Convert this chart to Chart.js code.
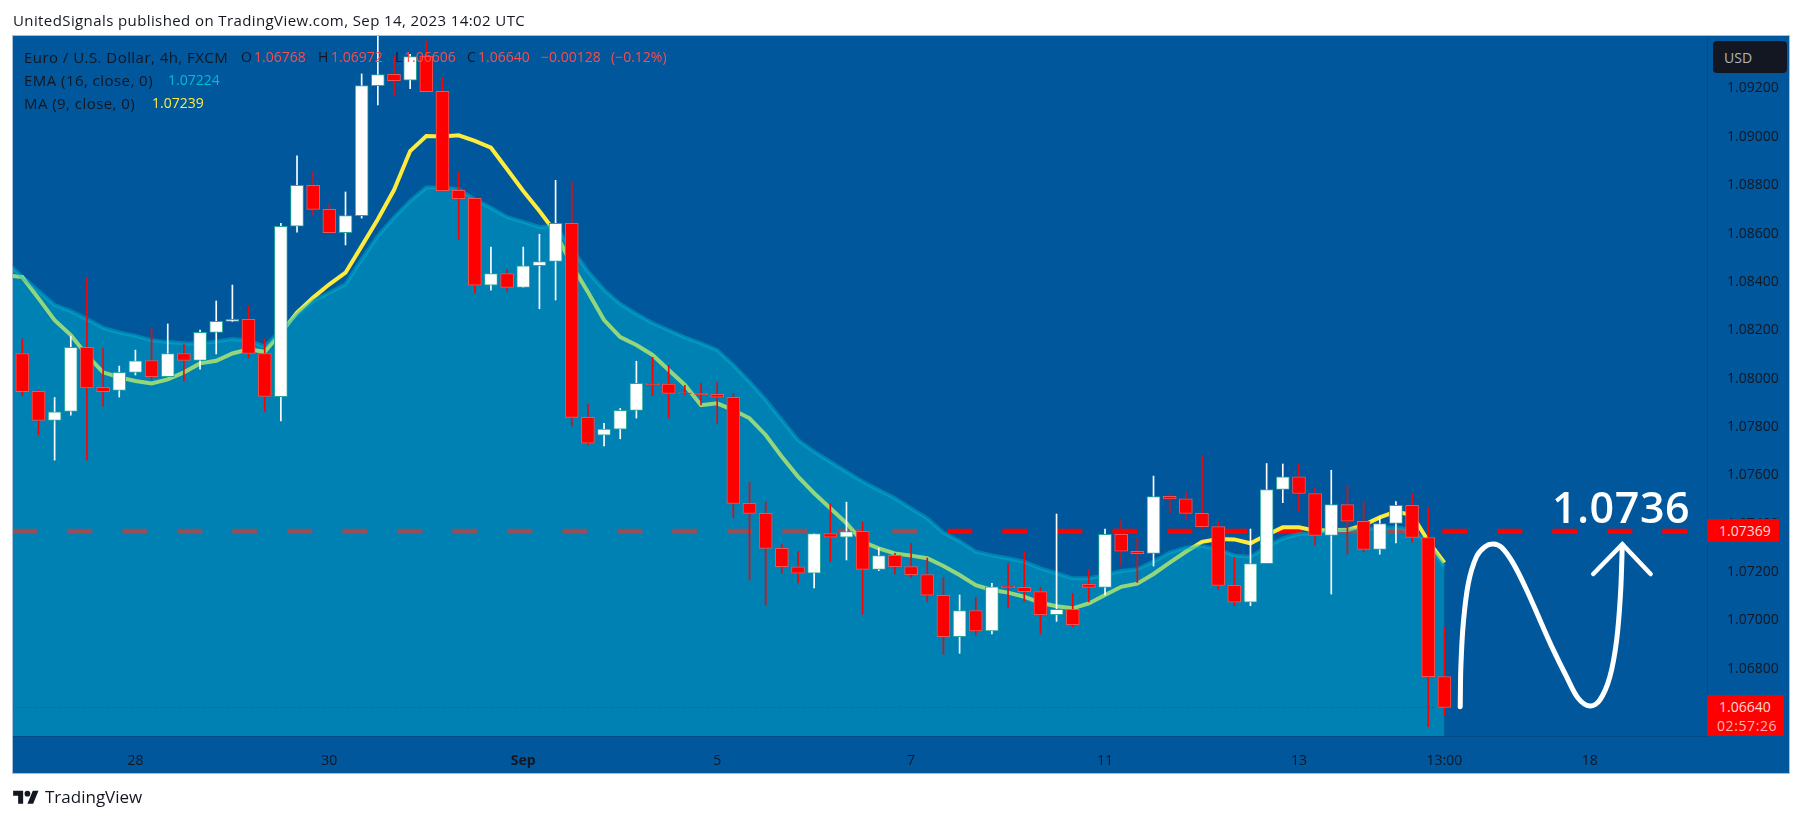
<!DOCTYPE html>
<html><head><meta charset="utf-8">
<script src="https://cdn.jsdelivr.net/npm/chart.js@4"></script>
<style>
html,body{margin:0;padding:0;background:#fff;width:1803px;height:821px;overflow:hidden}
canvas{position:absolute;left:0;top:0}
.t{position:absolute;white-space:nowrap;font-family:"Open Sans",sans-serif;font-size:14px;line-height:18px;color:#131722}
.l{font-size:15px;letter-spacing:.45px}
.r{color:#ff4a4a}
.tag{position:absolute;background:#ff0000}
</style></head><body>
<canvas id="c" width="1803" height="821"></canvas>
<div class="t" id="title" style="left:13px;top:11px;font-size:15px;letter-spacing:.4px">UnitedSignals published on TradingView.com, Sep 14, 2023 14:02 UTC</div>

<div class="t l" style="left:24px;top:48px">Euro / U.S. Dollar, 4h, FXCM</div>
<div class="t" style="left:241px;top:48px">O</div><div class="t r" style="left:254px;top:48px">1.06768</div>
<div class="t" style="left:318px;top:48px">H</div><div class="t r" style="left:331px;top:48px">1.06972</div>
<div class="t" style="left:395px;top:48px">L</div><div class="t r" style="left:404px;top:48px">1.06606</div>
<div class="t" style="left:467px;top:48px">C</div><div class="t r" style="left:478px;top:48px">1.06640</div>
<div class="t r" style="left:541px;top:48px">−0.00128</div><div class="t r" style="left:611px;top:48px">(−0.12%)</div>
<div class="t l" style="left:24px;top:71px">EMA (16, close, 0)</div><div class="t" style="left:168px;top:71px;color:#00bcd4">1.07224</div>
<div class="t l" style="left:24px;top:94px">MA (9, close, 0)</div><div class="t" style="left:152px;top:94px;color:#ffeb3b">1.07239</div>

<div style="position:absolute;left:1713px;top:41px;width:74px;height:32px;background:#131722;border-radius:4px"></div>
<div class="t" style="left:1724px;top:49px;color:#b2b5be">USD</div>
<div class="tag" style="left:1707px;top:519px;width:72px;height:23px"></div>
<div class="t" style="left:1719px;top:522px;color:#ffd9d9">1.07369</div>
<div class="tag" style="left:1707px;top:695px;width:77px;height:41px"></div>
<div class="t" style="left:1719px;top:698px;color:#ffd9d9">1.06640</div>
<div class="t" style="left:1717px;top:717px;color:#ffb3b3;letter-spacing:.6px">02:57:26</div>

<div class="t" style="left:1552px;top:479px;font-size:43px;line-height:56px;font-weight:600;color:#fff;letter-spacing:.6px">1.0736</div>

<svg style="position:absolute;left:13px;top:788px" width="26" height="20" viewBox="0 0 36 28"><path fill="#131722" d="M14 22H7V11H0V4h14v18zM28 22h-8l7.5-18h8L28 22z"/><circle fill="#131722" cx="20" cy="8" r="4"/></svg>
<div class="t" style="left:45px;top:787px;font-size:17px;line-height:20px">TradingView</div>

<script>
const opens=[1.08104,1.07947,1.07827,1.07864,1.08129,1.07964,1.07951,1.08026,1.08075,1.08008,1.08104,1.08075,1.08191,1.08237,1.08245,1.08104,
1.07925,1.08630,1.08799,1.08700,1.08604,1.08674,1.09212,1.09258,1.09234,1.09334,1.09188,1.08779,1.08746,1.08386,1.08434,1.08377,1.08467,1.08485,1.08642,
1.07840,1.07766,1.07791,1.07869,1.07981,1.07977,1.07941,1.07939,1.07935,1.07923,1.07484,1.07443,1.07298,1.07222,1.07195,1.07359,1.07344,
1.07368,1.07211,1.07269,1.07223,1.07190,1.07104,1.06933,1.07041,1.06957,1.07142,1.07137,1.07119,1.07024,1.07046,1.07149,1.07137,1.07356,1.07286,
1.07277,1.07513,1.07503,1.07443,1.07388,1.07145,1.07075,1.07235,1.07542,1.07594,1.07525,1.07352,1.07479,1.07410,1.07294,1.07401,1.07476,1.07343,1.06768];
const highs=[1.08164,1.07953,1.07922,1.08176,1.08419,1.08125,1.08052,1.08118,1.08208,1.08226,1.08143,1.08201,1.08321,1.08387,1.08300,1.08164,
1.08642,1.08921,1.08854,1.08725,1.08772,1.09260,1.09430,1.09334,1.09341,1.09396,1.09245,1.08854,1.08746,1.08544,1.08452,1.08544,1.08597,1.08820,1.08815,
1.07895,1.07815,1.07877,1.08072,1.08088,1.08055,1.07972,1.07981,1.07985,1.07939,1.07571,1.07489,1.07315,1.07286,1.07359,1.07482,1.07489,
1.07407,1.07299,1.07277,1.07319,1.07258,1.07178,1.07105,1.07095,1.07153,1.07236,1.07283,1.07137,1.07440,1.07112,1.07211,1.07378,1.07419,1.07343,
1.07597,1.07525,1.07534,1.07683,1.07410,1.07261,1.07378,1.07649,1.07647,1.07649,1.07546,1.07621,1.07558,1.07492,1.07426,1.07492,1.07521,1.07468,1.06972];
const lows=[1.07929,1.07767,1.07663,1.07849,1.07663,1.07886,1.07924,1.08015,1.07998,1.08008,1.07990,1.08039,1.08102,1.08235,1.08086,1.07863,
1.07825,1.08606,1.08673,1.08604,1.08553,1.08664,1.09132,1.09169,1.09199,1.09187,1.08775,1.08576,1.08355,1.08366,1.08362,1.08377,1.08289,1.08325,1.07804,
1.07726,1.07722,1.07751,1.07837,1.07930,1.07837,1.07933,1.07891,1.07815,1.07424,1.07167,1.07064,1.07195,1.07155,1.07134,1.07243,1.07250,
1.07026,1.07206,1.07192,1.07178,1.07077,1.06861,1.06864,1.06939,1.06944,1.07053,1.07079,1.06944,1.06996,1.06974,1.07076,1.07105,1.07225,1.07157,
1.07225,1.07443,1.07419,1.07378,1.07128,1.07061,1.07061,1.07235,1.07487,1.07450,1.07312,1.07109,1.07274,1.07283,1.07274,1.07321,1.07324,1.06561,1.06606];
const closes=[1.07946,1.07827,1.07863,1.08129,1.07962,1.07946,1.08026,1.08074,1.08008,1.08104,1.08075,1.08191,1.08237,1.08245,1.08104,1.07926,
1.08630,1.08799,1.08700,1.08604,1.08674,1.09212,1.09257,1.09232,1.09332,1.09187,1.08777,1.08744,1.08386,1.08434,1.08377,1.08467,1.08484,1.08642,1.07840,
1.07733,1.07791,1.07869,1.07981,1.07975,1.07939,1.07938,1.07934,1.07923,1.07484,1.07443,1.07298,1.07222,1.07195,1.07359,1.07344,1.07367,
1.07211,1.07268,1.07222,1.07189,1.07104,1.06933,1.07041,1.06957,1.07139,1.07135,1.07119,1.07024,1.07046,1.06982,1.07137,1.07356,1.07286,1.07276,
1.07512,1.07503,1.07443,1.07388,1.07145,1.07075,1.07235,1.07541,1.07594,1.07525,1.07352,1.07479,1.07410,1.07294,1.07401,1.07476,1.07343,1.06767,1.06640];
const emaValues=[1.08483,1.08421,1.08362,1.08304,1.08279,1.08246,1.08210,1.08191,1.08177,1.08159,1.08151,1.08146,1.08144,1.08154,1.08164,1.08158,1.08132,
1.08201,1.08266,1.08321,1.08355,1.08390,1.08493,1.08590,1.08666,1.08735,1.08790,1.08790,1.08783,1.08741,1.08707,1.08668,1.08648,1.08627,1.08631,1.08538,
1.08443,1.08367,1.08309,1.08267,1.08230,1.08200,1.08171,1.08146,1.08118,1.08056,1.07987,1.07912,1.07829,1.07746,1.07698,1.07656,1.07615,
1.07574,1.07539,1.07505,1.07463,1.07422,1.07363,1.07328,1.07284,1.07269,1.07257,1.07243,1.07215,1.07195,1.07174,1.07174,1.07188,1.07204,1.07212,
1.07243,1.07281,1.07301,1.07308,1.07294,1.07268,1.07263,1.07305,1.07339,1.07357,1.07360,1.07374,1.07377,1.07377,1.07382,1.07385,1.07374,1.07319,1.07224];
const maValues=[1.08428,1.08420,1.08332,1.08242,1.08180,1.08097,1.08026,1.08005,1.07990,1.07980,1.07997,1.08026,1.08063,1.08074,1.08104,1.08121,1.08111,
1.08190,1.08273,1.08335,1.08390,1.08438,1.08548,1.08659,1.08780,1.08941,1.09003,1.09001,1.09006,1.08983,1.08955,1.08866,1.08776,1.08693,1.08604,1.08470,
1.08358,1.08242,1.08172,1.08139,1.08098,1.08036,1.07974,1.07890,1.07898,1.07870,1.07836,1.07767,1.07677,1.07595,1.07526,1.07464,1.07402,
1.07325,1.07298,1.07277,1.07268,1.07257,1.07225,1.07188,1.07146,1.07126,1.07115,1.07098,1.07073,1.07059,1.07050,1.07070,1.07105,1.07139,1.07152,
1.07192,1.07239,1.07284,1.07325,1.07337,1.07335,1.07319,1.07353,1.07385,1.07385,1.07371,1.07374,1.07374,1.07394,1.07426,1.07450,1.07436,1.07328,1.07239];
const priceTicks=[1.092,1.09,1.088,1.086,1.084,1.082,1.08,1.078,1.076,1.074,1.072,1.07,1.068,1.066];
const timeTickBars=[7,19,31,43,55,67,79,88,97];
const timeTickLabels=["28","30","Sep","5","7","11","13","13:00","18"];
const targetLevel=1.07369, lastPrice=1.0664;
const curveBars=[88.98,89.02,89.17,89.48,89.99,90.51,91.02,91.54,92.26,93.09,93.91,94.74,95.56,96.28,97.0,97.62,98.24,98.66,98.90,99.01];
const curvePrices=[1.06643,1.06809,1.06988,1.07153,1.07264,1.07305,1.07316,1.07302,1.07236,1.07126,1.07002,1.06878,1.06767,1.06678,1.06646,1.06671,1.06767,1.06919,1.07112,1.07312];
const arrowBars=[97.21,99.01,100.76];
const arrowPrices=[1.07192,1.07315,1.07192];
const lineStartBar=-0.62, levelEndBar=103.06, axisMinBar=-0.5755, axisMaxBar=104.25, yMin=1.06522, yMax=1.09417;

const BG="#01579b", AREA="rgba(0,188,212,0.42)";
const up=opens.map((o,i)=>closes[i]>=o);
const bars=opens.map((_,i)=>i);
const frame={id:"frame",beforeDraw(ch){const c=ch.ctx;c.save();c.fillStyle=BG;c.fillRect(13,36,1776,737);
 c.strokeStyle="#a8bfd6";c.lineWidth=1;c.strokeRect(12.5,35.5,1777,738);c.restore();}};
new Chart(document.getElementById("c"),{type:"bar",plugins:[frame],
 data:{datasets:[
  {type:"line",order:10,data:[{x:lineStartBar,y:targetLevel},{x:levelEndBar,y:targetLevel}],borderColor:"#ff0000",borderWidth:5,borderDash:[25,30],pointRadius:0,fill:false},
  {type:"line",order:9,data:[-1,...bars].map((b,i)=>({x:b,y:maValues[i]})),borderColor:"#ffeb3b",borderWidth:4,pointRadius:0,tension:0,fill:false},
  {type:"line",order:8,data:[-1,...bars].map((b,i)=>({x:b,y:emaValues[i]})),borderColor:AREA,backgroundColor:AREA,borderWidth:4,pointRadius:0,tension:0,fill:"start"},
  {type:"line",order:7,data:[{x:axisMinBar,y:lastPrice},{x:axisMaxBar,y:lastPrice}],borderColor:"#ff0000",borderWidth:1,borderDash:[1,2],pointRadius:0,fill:false},
  {order:2,data:bars.map(i=>({x:i,y:[lows[i],highs[i]]})),barThickness:1,grouped:false,borderWidth:0,backgroundColor:up.map(u=>u?"#ffffff":"#ff0000")},
  {order:1,data:bars.map(i=>({x:i,y:[opens[i],closes[i]]})),barThickness:13,grouped:false,borderWidth:1,borderSkipped:false,backgroundColor:up.map(u=>u?"#ffffff":"#ff0000"),borderColor:up.map(u=>u?"#26a69a":"#f55353")},
  {type:"line",order:0,data:curveBars.map((b,i)=>({x:b,y:curvePrices[i]})),borderColor:"#ffffff",borderWidth:5,pointRadius:0,tension:0.35,fill:false,borderCapStyle:"round"},
  {type:"line",order:0,data:arrowBars.map((b,i)=>({x:b,y:arrowPrices[i]})),borderColor:"#ffffff",borderWidth:4.5,pointRadius:0,tension:0,fill:false,borderCapStyle:"round",borderJoinStyle:"miter"}
 ]},
 options:{responsive:false,animation:false,devicePixelRatio:1,
  layout:{padding:{left:13,top:36,right:14,bottom:48}},
  plugins:{legend:{display:false},tooltip:{enabled:false},title:{display:false}},
  scales:{
   x:{type:"linear",offset:false,min:axisMinBar,max:axisMaxBar,grid:{display:false},border:{display:true,color:"rgba(19,23,34,0.18)"},
    afterBuildTicks(s){s.ticks=timeTickBars.map(v=>({value:v}));},
    afterFit(s){s.height=37;},
    ticks:{autoSkip:false,maxRotation:0,padding:9,color:"#131722",
     font:c=>({family:"'Open Sans',sans-serif",size:14,weight:c.index===2?"bold":"normal"}),
     callback:(v)=>{const k=timeTickBars.indexOf(v);return k<0?"":timeTickLabels[k];}}},
   y:{type:"linear",position:"right",min:yMin,max:yMax,grid:{display:false},border:{display:true,color:"rgba(19,23,34,0.18)"},
    afterBuildTicks(s){s.ticks=priceTicks.map(v=>({value:v}));},
    afterFit(s){s.width=82;},
    ticks:{autoSkip:false,padding:12,color:"#131722",font:{family:"'Open Sans',sans-serif",size:14},callback:v=>v.toFixed(5)}}
  }}});
</script>
</body></html>
